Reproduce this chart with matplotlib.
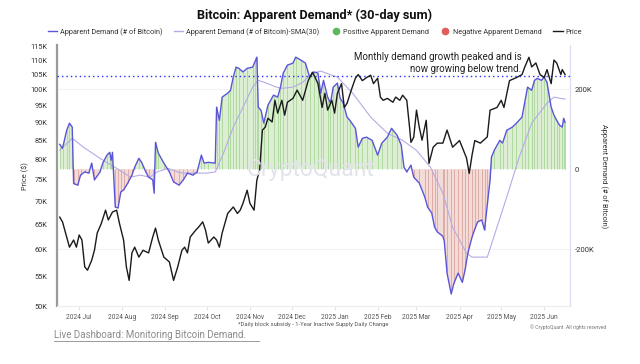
import pandas as pd
import numpy as np
import matplotlib.pyplot as plt
import matplotlib.dates as mdates
from matplotlib.lines import Line2D

plt.rcParams['font.family'] = ['Roboto', 'DejaVu Sans']

# Apparent demand, 30-day sum (thousand BTC)
demand_dates = [
    "2024-06-17", "2024-06-19", "2024-06-22", "2024-06-24", "2024-06-26", "2024-06-27",
    "2024-06-30", "2024-07-02", "2024-07-05", "2024-07-08", "2024-07-10", "2024-07-12",
    "2024-07-16", "2024-07-18", "2024-07-21", "2024-07-23", "2024-07-24", "2024-07-25",
    "2024-07-27", "2024-07-29", "2024-07-31", "2024-08-02", "2024-08-05", "2024-08-08",
    "2024-08-10", "2024-08-13", "2024-08-15", "2024-08-18", "2024-08-20", "2024-08-23",
    "2024-08-24", "2024-08-25", "2024-08-27", "2024-08-31", "2024-09-04", "2024-09-07",
    "2024-09-11", "2024-09-14", "2024-09-17", "2024-09-21", "2024-09-24", "2024-09-27",
    "2024-09-29", "2024-10-02", "2024-10-07", "2024-10-08", "2024-10-10", "2024-10-12",
    "2024-10-16", "2024-10-18", "2024-10-20", "2024-10-22", "2024-10-24", "2024-10-27",
    "2024-10-30", "2024-11-03", "2024-11-05", "2024-11-06", "2024-11-07", "2024-11-09",
    "2024-11-11", "2024-11-14", "2024-11-18", "2024-11-21", "2024-11-23", "2024-11-25",
    "2024-11-28", "2024-12-02", "2024-12-04", "2024-12-08", "2024-12-11", "2024-12-14",
    "2024-12-17", "2024-12-20", "2024-12-22", "2024-12-24", "2024-12-27", "2024-12-29",
    "2024-12-31", "2025-01-03", "2025-01-05", "2025-01-07", "2025-01-10", "2025-01-12",
    "2025-01-16", "2025-01-18", "2025-01-21", "2025-01-24", "2025-01-28", "2025-02-01",
    "2025-02-04", "2025-02-08", "2025-02-11", "2025-02-15", "2025-02-18", "2025-02-20",
    "2025-02-22", "2025-02-25", "2025-02-27", "2025-03-03", "2025-03-07", "2025-03-09",
    "2025-03-12", "2025-03-14", "2025-03-16", "2025-03-20", "2025-03-21", "2025-03-23",
    "2025-03-26", "2025-03-28", "2025-03-31", "2025-04-03", "2025-04-05", "2025-04-07",
    "2025-04-10", "2025-04-12", "2025-04-14", "2025-04-17", "2025-04-19", "2025-04-21",
    "2025-04-23", "2025-04-24", "2025-04-26", "2025-04-30", "2025-05-02", "2025-05-05",
    "2025-05-09", "2025-05-12", "2025-05-16", "2025-05-18", "2025-05-20", "2025-05-23",
    "2025-05-25", "2025-05-27", "2025-05-30", "2025-06-01", "2025-06-03", "2025-06-06",
    "2025-06-08", "2025-06-10", "2025-06-12", "2025-06-14", "2025-06-15", "2025-06-16",
]
demand = [
    62, 52, 97, 115, 105, -36,
    -40, -15, -7, -10, 15, -27,
    -7, 15, 35, 42, 22, 42,
    -95, -97, -57, -52, -35, -15,
    5, 27, 17, -7, -20, -27,
    -60, 67, 40, 15, -7, -32,
    -40, -27, -10, -15, -7, 35,
    15, 17, 15, 155, 122, 180,
    190, 197, 230, 255, 252, 243,
    252, 255, 272, 280, 155, 147,
    115, 160, 185, 180, 205, 240,
    260, 265, 280, 272, 265, 230,
    243, 240, 190, 222, 180, 165,
    205, 215, 177, 167, 130, 122,
    102, 55, 77, 80, 72, 35,
    65, 80, 102, 85, 60, 5,
    -7, 10, -20, -35, -70, -95,
    -110, -145, -157, -168, -180, -260,
    -312, -285, -260, -283, -252, -210,
    -170, -150, -132, -127, -152, -90,
    -27, 30, 47, 72, 65, 97,
    105, 115, 130, 167, 205, 197,
    222, 227, 222, 230, 217, 155,
    135, 122, 110, 105, 127, 117,
]

# 30-day SMA of apparent demand (thousand BTC)
sma_dates = [
    "2024-06-17", "2024-06-26", "2024-07-04", "2024-07-16", "2024-07-28", "2024-08-07",
    "2024-08-14", "2024-08-21", "2024-08-26", "2024-09-03", "2024-09-10", "2024-09-14",
    "2024-09-24", "2024-10-01", "2024-10-07", "2024-10-13", "2024-10-20", "2024-10-27",
    "2024-11-03", "2024-11-07", "2024-11-13", "2024-11-20", "2024-11-24", "2024-12-02",
    "2024-12-09", "2024-12-16", "2024-12-22", "2025-01-03", "2025-01-14", "2025-01-27",
    "2025-02-08", "2025-02-19", "2025-03-01", "2025-03-11", "2025-03-20", "2025-03-27",
    "2025-04-06", "2025-04-10", "2025-04-21", "2025-04-25", "2025-05-05", "2025-05-14",
    "2025-05-23", "2025-06-03", "2025-06-08", "2025-06-16",
]
sma = [
    47, 77, 55, 27, 2, -20,
    -15, -20, -7, 2, -7, -10,
    -10, -10, -7, 40, 105, 155,
    205, 222, 215, 205, 202, 205,
    217, 240, 245, 230, 190, 130,
    90, 72, 47, 5, -60, -145,
    -210, -220, -220, -177, -70, 30,
    115, 165, 180, 175,
]

# BTC price (USD thousands)
price_dates = [
    "2024-06-17", "2024-06-19", "2024-06-22", "2024-06-24", "2024-06-27", "2024-06-29",
    "2024-07-01", "2024-07-03", "2024-07-05", "2024-07-07", "2024-07-10", "2024-07-12",
    "2024-07-14", "2024-07-17", "2024-07-20", "2024-07-22", "2024-07-25", "2024-07-28",
    "2024-07-30", "2024-08-02", "2024-08-04", "2024-08-06", "2024-08-08", "2024-08-10",
    "2024-08-13", "2024-08-16", "2024-08-20", "2024-08-23", "2024-08-25", "2024-08-27",
    "2024-08-31", "2024-09-04", "2024-09-07", "2024-09-10", "2024-09-13", "2024-09-15",
    "2024-09-17", "2024-09-19", "2024-09-23", "2024-09-25", "2024-09-28", "2024-09-30",
    "2024-10-02", "2024-10-06", "2024-10-08", "2024-10-10", "2024-10-12", "2024-10-16",
    "2024-10-18", "2024-10-20", "2024-10-23", "2024-10-25", "2024-10-27", "2024-10-30",
    "2024-11-01", "2024-11-04", "2024-11-06", "2024-11-08", "2024-11-10", "2024-11-12",
    "2024-11-14", "2024-11-17", "2024-11-19", "2024-11-21", "2024-11-24", "2024-11-26",
    "2024-11-28", "2024-12-02", "2024-12-05", "2024-12-09", "2024-12-13", "2024-12-16",
    "2024-12-18", "2024-12-20", "2024-12-23", "2024-12-25", "2024-12-27", "2024-12-30",
    "2025-01-01", "2025-01-03", "2025-01-06", "2025-01-08", "2025-01-10", "2025-01-13",
    "2025-01-16", "2025-01-18", "2025-01-21", "2025-01-24", "2025-01-27", "2025-01-29",
    "2025-02-01", "2025-02-03", "2025-02-05", "2025-02-08", "2025-02-12", "2025-02-14",
    "2025-02-17", "2025-02-19", "2025-02-22", "2025-02-24", "2025-02-25", "2025-02-27",
    "2025-03-01", "2025-03-03", "2025-03-05", "2025-03-08", "2025-03-10", "2025-03-13",
    "2025-03-16", "2025-03-20", "2025-03-23", "2025-03-27", "2025-04-01", "2025-04-06",
    "2025-04-08", "2025-04-10", "2025-04-12", "2025-04-16", "2025-04-21", "2025-04-23",
    "2025-04-28", "2025-05-01", "2025-05-03", "2025-05-07", "2025-05-12", "2025-05-16",
    "2025-05-18", "2025-05-21", "2025-05-23", "2025-05-26", "2025-05-29", "2025-06-01",
    "2025-06-03", "2025-06-06", "2025-06-08", "2025-06-10", "2025-06-13", "2025-06-14",
    "2025-06-16",
]
price = [
    66.5, 65.5, 62.4, 60.4, 61.8, 60.4,
    62.8, 61.8, 56.7, 56.1, 57.9, 59.8,
    63.2, 65.2, 68.0, 65.9, 67.6, 68.0,
    65.2, 61.8, 56.7, 54.3, 59.3, 60.4,
    58.5, 59.8, 59.3, 62.4, 64.2, 61.8,
    58.5, 57.6, 54.3, 56.7, 59.8, 60.4,
    59.3, 62.4, 63.8, 64.4, 65.5, 63.8,
    61.2, 62.4, 61.8, 60.4, 63.2, 67.3,
    68.0, 68.7, 67.3, 68.0, 69.5, 72.5,
    69.5, 68.0, 74.9, 77.3, 87.9, 88.7,
    91.3, 90.2, 96.7, 92.8, 96.7, 92.2,
    96.1, 97.3, 99.9, 96.7, 103.0, 105.8,
    104.0, 102.0, 94.5, 98.9, 93.7, 96.7,
    92.8, 98.9, 102.0, 94.5, 95.8, 99.9,
    103.8, 105.0, 103.0, 104.0, 104.8, 102.0,
    103.8, 97.7, 96.7, 97.3, 96.1, 97.7,
    96.7, 98.3, 96.7, 88.7, 84.5, 85.9,
    93.7, 88.7, 85.1, 90.7, 79.0, 83.2,
    84.3, 84.3, 87.9, 83.2, 85.0, 80.4,
    76.5, 81.1, 85.0, 84.3, 86.0, 93.7,
    94.5, 96.7, 94.5, 103.0, 104.0, 105.0,
    107.6, 111.0, 107.6, 109.0, 105.0, 104.0,
    106.7, 102.0, 110.0, 109.0, 105.0, 106.7,
    105.0,
]
price_level = 104.5
price_ticks = [50, 55, 60, 65, 70, 75, 80, 85, 90, 95, 100, 105, 110, 115]
demand_ticks = [-200, 0, 200]

d_dates = pd.to_datetime(demand_dates)
d_vals = np.array(demand)
s_dates = pd.to_datetime(sma_dates)
p_dates = pd.to_datetime(price_dates)

fig = plt.figure(figsize=(6.4, 3.64), dpi=100)
ax = fig.add_axes([0.089, 0.159, 0.802, 0.717])
ax2 = ax.twinx()

# demand on the primary axis (ticks on the right)
ax.axhline(200, color='#f2f2f2', lw=0.8, zorder=0)
ax.axhline(-200, color='#f2f2f2', lw=0.8, zorder=0)
ax.fill_between(d_dates, d_vals, 0, where=d_vals >= 0, interpolate=True,
                color='#dcefd3', lw=0, zorder=1)
ax.fill_between(d_dates, d_vals, 0, where=d_vals <= 0, interpolate=True,
                color='#f3dcd8', lw=0, zorder=1)
pos = d_vals > 0
ax.vlines(d_dates[pos], 0, d_vals[pos], color='#a9d699', lw=0.6, zorder=2)
ax.vlines(d_dates[~pos], 0, d_vals[~pos], color='#dba59f', lw=0.6, zorder=2)
ax.plot(s_dates, sma, color='#b4abe6', lw=0.8, zorder=3)
ax.plot(d_dates, d_vals, color='#5b55d8', lw=1.0, zorder=4)

ax.set_ylim(-342.5, 310)
ax.yaxis.tick_right()
ax.yaxis.set_label_position('right')
ax.set_yticks(demand_ticks)
ax.set_yticklabels(['-200K', '0', '200K'])
ax.tick_params(axis='y', length=0, labelsize=5.5, pad=3.5, labelcolor='#333333')
ax.set_ylabel('Apparent Demand (# of Bitcoin)', rotation=-90, fontsize=5.3,
              color='#333333', labelpad=4, va='bottom')

ax.set_xlim(pd.Timestamp('2024-06-15'), pd.Timestamp('2025-06-19 18:00'))
ax.xaxis.set_major_locator(mdates.MonthLocator())
ax.xaxis.set_major_formatter(mdates.DateFormatter('%Y %b'))
ax.tick_params(axis='x', length=3, color='#e4e4e4', labelsize=4.8,
               labelcolor='#555555', pad=3)

# price on the twin axis (ticks on the left)
ax2.set_yscale('log')
ax2.plot(p_dates, price, color='#1a1a1a', lw=1.0, zorder=5)
ax2.axhline(price_level, color='#2b2bff', lw=1.0, ls=(0, (1, 2.2)), zorder=4)
ax2.set_ylim(50, 115.4)
ax2.yaxis.tick_left()
ax2.yaxis.set_label_position('left')
ax2.set_yticks(price_ticks)
ax2.set_yticklabels([f'{t}K' for t in price_ticks])
ax2.yaxis.set_minor_locator(plt.NullLocator())
ax2.tick_params(axis='y', length=0, labelsize=5.3, pad=7, labelcolor='#333333')
ax2.set_ylabel('Price ($)', fontsize=5.3, color='#333333', labelpad=1)

for a in (ax, ax2):
    a.spines['top'].set_visible(False)
    a.spines['left'].set_visible(False)
    a.spines['right'].set_color('#dcdcef')
    a.spines['right'].set_linewidth(0.8)
    a.spines['bottom'].set_color('#eeeeee')
ax2.spines['left'].set_visible(True)
ax2.spines['left'].set_color('#9a9a9a')
ax2.spines['left'].set_linewidth(1.6)

# watermark
fig.text(0.485, 0.533, 'CryptoQuant', fontsize=16.5, color='#e3e3eb',
         ha='center', va='center', zorder=0)

ax2.text(0.905, 0.975, 'Monthly demand growth peaked and is\nnow growing below trend.',
         transform=ax2.transAxes, ha='right', va='top', fontsize=7,
         color='#222222', linespacing=1.25, zorder=6)

fig.text(0.492, 0.959, 'Bitcoin: Apparent Demand* (30-day sum)', ha='center',
         va='center', fontsize=9.2, fontweight='bold', color='#111111')

handles = [
    Line2D([], [], color='#5b55d8', lw=1.0),
    Line2D([], [], color='#b4abe6', lw=1.0),
    Line2D([], [], color='#5cb85c', marker='o', ls='', markersize=4.5),
    Line2D([], [], color='#e15b5b', marker='o', ls='', markersize=4.5),
    Line2D([], [], color='#1a1a1a', lw=1.0),
]
labels = ['Apparent Demand (# of Bitcoin)', 'Apparent Demand (# of Bitcoin)-SMA(30)',
          'Positive Apparent Demand', 'Negative Apparent Demand', 'Price']
fig.legend(handles, labels, loc='center', bbox_to_anchor=(0.492, 0.912), ncol=5,
           frameon=False, fontsize=5.2, handlelength=1.3, handletextpad=0.4,
           columnspacing=1.6, labelcolor='#333333')

fig.text(0.49, 0.108, '*Daily block subsidy - 1-Year Inactive Supply Daily Change',
         ha='center', va='center', fontsize=4.2, color='#555555')
fig.text(0.888, 0.102, '\u00a9 CryptoQuant. All rights reserved', ha='center',
         va='center', fontsize=3.6, color='#777777')
fig.text(0.084, 0.079, 'Live Dashboard: Monitoring Bitcoin Demand.', ha='left',
         va='center', fontsize=7, color='#8a8a8a')
fig.add_artist(Line2D([0.084, 0.404], [0.063, 0.063], color='#8a8a8a', lw=0.6))

fig.savefig('out.png', dpi=100)
